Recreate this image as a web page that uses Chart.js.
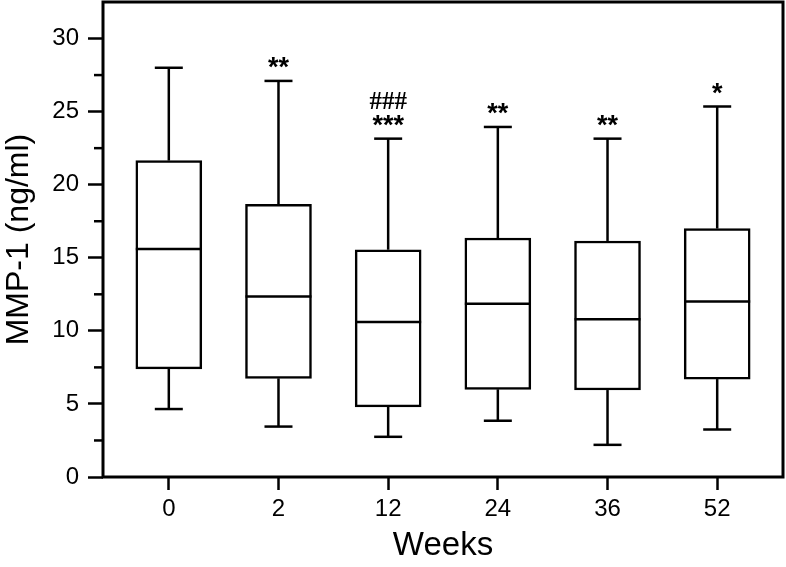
<!DOCTYPE html>
<html>
<head>
<meta charset="utf-8">
<script src="https://cdn.jsdelivr.net/npm/chart.js@4.4.1/dist/chart.umd.min.js"></script>
<style>
  html, body { margin: 0; padding: 0; background: #fff; }
  #wrap { width: 786px; height: 567px; }
</style>
</head>
<body>
<div id="wrap"><canvas id="c" width="786" height="567"></canvas></div>
<script>
// weeks and box stats (ng/ml)
const weeks = ['0', '2', '12', '24', '36', '52'];
const whiskerLow = [4.65, 3.45, 2.75, 3.85, 2.2, 3.25];
const q1 = [7.4, 6.75, 4.8, 6.0, 5.95, 6.7];
const median = [15.6, 12.35, 10.6, 11.85, 10.8, 12.0];
const q3 = [21.65, 18.65, 15.55, 16.35, 16.15, 17.0];
const whiskerHigh = [28.0, 27.1, 23.15, 23.95, 23.15, 25.35];
// significance marks above the upper whisker
const marks = [[], ['**'], ['***', '###'], ['**'], ['**'], ['*']];
const yTicks = [0, 2.5, 5, 7.5, 10, 12.5, 15, 17.5, 20, 22.5, 25, 27.5, 30];

const FONT = "'Liberation Sans', Arial, sans-serif";

const boxPlugin = {
  id: 'boxParts',
  afterDatasetsDraw(chart) {
    const { ctx, scales: { x, y }, chartArea } = chart;
    ctx.save();
    ctx.strokeStyle = '#000';
    ctx.lineWidth = 2.5;
    ctx.lineCap = 'butt';
    const capHalf = 14, boxHalf = 33;
    const line = (x1, y1, x2, y2) => { ctx.beginPath(); ctx.moveTo(x1, y1); ctx.lineTo(x2, y2); ctx.stroke(); };
    weeks.forEach((w, i) => {
      const cx = x.getPixelForValue(i);
      const hi = y.getPixelForValue(whiskerHigh[i]);
      const lo = y.getPixelForValue(whiskerLow[i]);
      // whiskers
      line(cx, y.getPixelForValue(q3[i]), cx, hi);
      line(cx, y.getPixelForValue(q1[i]), cx, lo);
      line(cx - capHalf, hi, cx + capHalf, hi);
      line(cx - capHalf, lo, cx + capHalf, lo);
      // median
      line(cx - boxHalf, y.getPixelForValue(median[i]), cx + boxHalf, y.getPixelForValue(median[i]));
      // marks
      ctx.fillStyle = '#000';
      ctx.textAlign = 'center';
      ctx.textBaseline = 'alphabetic';
      marks[i].forEach(m => {
        if (m[0] === '#') {
          ctx.font = "bold 25px 'Liberation Serif', serif";
          ctx.fillText(m, cx, hi - 30);
        } else {
          ctx.font = "bold 27px " + FONT;
          ctx.fillText(m, cx, hi - 5);
        }
      });
    });
    // minor ticks on y
    yTicks.forEach(v => {
      if (v % 5 !== 0) {
        const py = y.getPixelForValue(v);
        line(chartArea.left - 9, py, chartArea.left, py);
      }
    });
    // frame
    ctx.lineWidth = 3;
    ctx.strokeRect(chartArea.left, chartArea.top, chartArea.right - chartArea.left, chartArea.bottom - chartArea.top);
    ctx.restore();
  }
};

new Chart(document.getElementById('c'), {
  type: 'bar',
  data: {
    datasets: [{
      label: 'MMP-1',
      data: weeks.map((w, i) => ({ x: i, y: [q1[i], q3[i]] })),
      backgroundColor: '#fff',
      borderColor: '#000',
      borderWidth: 2.5,
      borderSkipped: false,
      barThickness: 66
    }]
  },
  options: {
    responsive: false,
    animation: false,
    events: [],
    layout: { padding: { top: 2, right: 3, left: 0, bottom: 0 } },
    plugins: { legend: { display: false }, tooltip: { enabled: false } },
    scales: {
      x: {
        type: 'linear',
        offset: false,
        min: -0.6,
        max: 5.6,
        afterBuildTicks: s => { s.ticks = weeks.map((w, i) => ({ value: i })); },
        afterFit: s => { s.height = 90; s.paddingLeft = 0; s.paddingRight = 0; },
        border: { display: false },
        grid: { offset: false, drawOnChartArea: false, drawTicks: true, tickLength: 13, tickWidth: 2.5, tickColor: '#000' },
        ticks: {
          color: '#000',
          font: { family: FONT, size: 24 },
          padding: 5,
          maxRotation: 0,
          callback: v => weeks[v]
        },
        title: {
          display: true,
          text: 'Weeks',
          color: '#000',
          font: { family: FONT, size: 33 },
          padding: { top: 0, bottom: 1 }
        }
      },
      y: {
        min: 0,
        max: 32.5,
        afterBuildTicks: s => { s.ticks = yTicks.map(v => ({ value: v })); },
        afterFit: s => { s.width = 103; s.paddingTop = 0; s.paddingBottom = 0; },
        border: { display: false },
        grid: {
          drawOnChartArea: false, drawTicks: true, tickLength: 15, tickWidth: 2.5,
          tickColor: c => (c.tick && c.tick.value % 5 === 0) ? '#000' : 'rgba(0,0,0,0)'
        },
        ticks: {
          color: '#000',
          font: { family: FONT, size: 24 },
          padding: 9,
          callback: v => (v % 5 === 0 ? String(v) : '')
        },
        title: {
          display: true,
          text: 'MMP-1 (ng/ml)',
          color: '#000',
          font: { family: FONT, size: 32 },
          padding: { top: 0, bottom: 0 }
        }
      }
    }
  },
  plugins: [boxPlugin]
});
</script>
</body>
</html>
